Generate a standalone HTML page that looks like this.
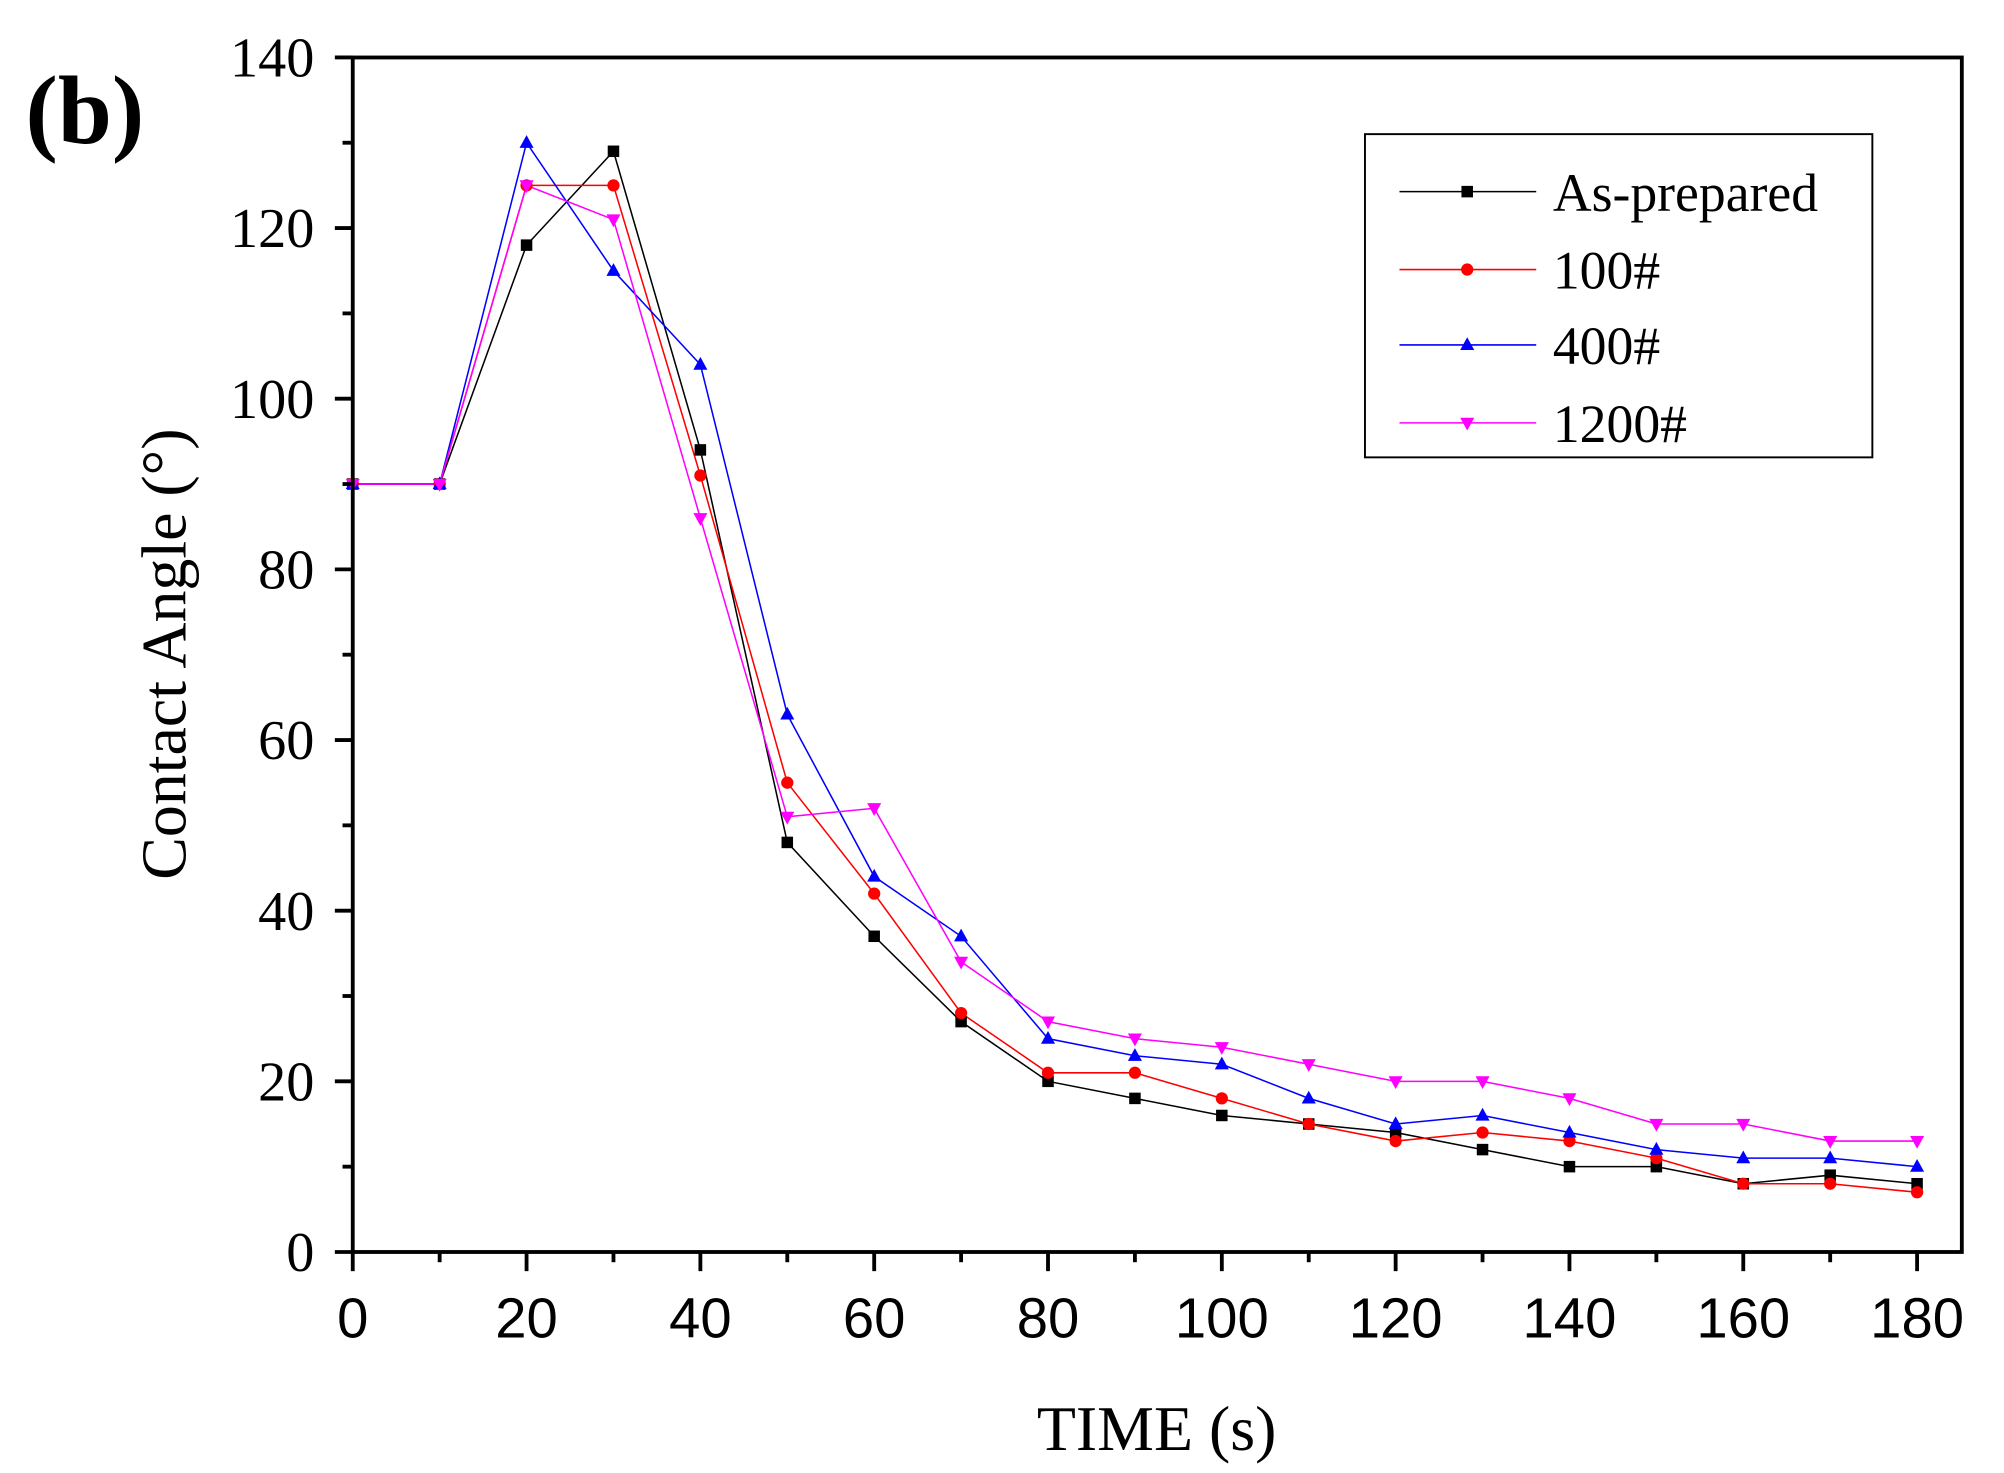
<!DOCTYPE html>
<html><head><style>html,body{margin:0;padding:0;background:#fff;}svg{display:block}</style></head>
<body>
<svg width="2004" height="1473" viewBox="0 0 1568 1153" preserveAspectRatio="none" xmlns="http://www.w3.org/2000/svg">
<rect width="1568" height="1153" fill="#fff"/>
<defs>
<rect id="sq" x="-4.5" y="-4.5" width="9" height="9" fill="#000"/>
<circle id="ci" r="4.8" fill="#f00"/>
<polygon id="tu" points="0,-6 5.5,4 -5.5,4" fill="#00f"/>
<polygon id="td" points="0,6 5.5,-4 -5.5,-4" fill="#f0f"/>
</defs>
<g id="plot"></g>
<text x="20" y="112" font-family="Liberation Serif, serif" font-weight="bold" font-size="76">(b)</text>
<text transform="translate(145,512) rotate(-90)" text-anchor="middle" font-family="Liberation Serif, serif" font-size="50">Contact Angle (°)</text>
<text x="905" y="1135" text-anchor="middle" font-family="Liberation Serif, serif" font-size="50">TIME (s)</text>
<rect x="1068" y="105" width="397" height="253" fill="#fff" stroke="#000" stroke-width="1.5"/>
<g font-family="Liberation Serif, serif" font-size="42">
<line x1="1095" y1="150" x2="1202" y2="150" stroke="#000" stroke-width="1.2"/><use href="#sq" x="1148" y="150"/><text x="1215" y="165">As-prepared</text>
<line x1="1095" y1="211" x2="1202" y2="211" stroke="#f00" stroke-width="1.2"/><use href="#ci" x="1148" y="211"/><text x="1215" y="226">100#</text>
<line x1="1095" y1="270" x2="1202" y2="270" stroke="#00f" stroke-width="1.2"/><use href="#tu" x="1148" y="270"/><text x="1215" y="285">400#</text>
<line x1="1095" y1="331" x2="1202" y2="331" stroke="#f0f" stroke-width="1.2"/><use href="#td" x="1148" y="331"/><text x="1215" y="346">1200#</text>
</g>
<script>
const X=t=>276+t*6.8, Y=v=>980-v*6.679;
const NS="http://www.w3.org/2000/svg";
const g=document.getElementById('plot');
function el(n,a){const e=document.createElementNS(NS,n);for(const k in a)e.setAttribute(k,a[k]);g.appendChild(e);return e;}
const S=[
["#000","#sq",[90,90,118,129,94,48,37,27,20,18,16,15,14,12,10,10,8,9,8]],
["#f00","#ci",[90,90,125,125,91,55,42,28,21,21,18,15,13,14,13,11,8,8,7]],
["#00f","#tu",[90,90,130,115,104,63,44,37,25,23,22,18,15,16,14,12,11,11,10]],
["#f0f","#td",[90,90,125,121,86,51,52,34,27,25,24,22,20,20,18,15,15,13,13]]];
for(const [c,m,d] of S){
 el('polyline',{points:d.map((v,i)=>X(i*10)+','+Y(v)).join(' '),fill:'none',stroke:c,'stroke-width':1.2});
}
for(const [c,m,d] of S){d.forEach((v,i)=>{const u=el('use',{x:X(i*10),y:Y(v)});u.setAttribute('href',m);});}
el('rect',{x:276,y:45,width:1259,height:935,fill:'none',stroke:'#000','stroke-width':3});
for(let v=0;v<=140;v+=10){const maj=v%20==0;el('line',{x1:276,x2:maj?262:268,y1:Y(v),y2:Y(v),stroke:'#000','stroke-width':3});
 if(maj){const t=el('text',{x:246,y:Y(v)+15,'text-anchor':'end','font-family':'Liberation Serif, serif','font-size':44});t.textContent=v;}}
for(let t=0;t<=180;t+=10){const maj=t%20==0;el('line',{x1:X(t),x2:X(t),y1:980,y2:maj?995:988,stroke:'#000','stroke-width':3});
 if(maj){const e=el('text',{x:X(t),y:1047,'text-anchor':'middle','font-family':'Liberation Sans, sans-serif','font-size':44});e.textContent=t;}}
</script>
</svg>
</body></html>
